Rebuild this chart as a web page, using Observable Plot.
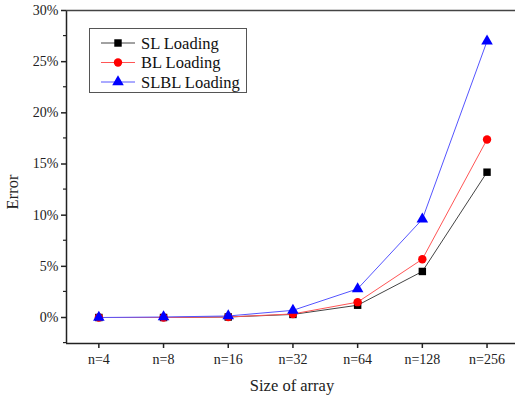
<!DOCTYPE html>
<html><head><meta charset="utf-8">
<script src="https://cdn.jsdelivr.net/npm/d3@7"></script>
<script src="https://cdn.jsdelivr.net/npm/@observablehq/plot@0.6"></script>
<style>body{margin:0;background:#fff;} svg{display:block;} svg text{font-family:'Liberation Serif','Times New Roman',serif !important;}</style>
</head><body><div id="chart"></div>
<script>
const categories = ["n=4","n=8","n=16","n=32","n=64","n=128","n=256"];
const slLoading = [0, 0, 0.05, 0.3, 1.2, 4.5, 14.2];
const blLoading = [0, 0, 0.05, 0.35, 1.5, 5.7, 17.4];
const slblLoading = [0, 0.05, 0.15, 0.7, 2.8, 9.6, 27.0];
const seriesNames = ["SL Loading", "BL Loading", "SLBL Loading"];
const yTicks = [0, 5, 10, 15, 20, 25, 30];
const yMinorTicks = [-2.5, 2.5, 7.5, 12.5, 17.5, 22.5, 27.5];

const styles = [
  {line: "#444", fill: "#000", symbol: "square", r: 4.2},
  {line: "#ff5555", fill: "#ff0000", symbol: "circle", r: 4.2},
  {line: "#5555ff", fill: "#0000ff", symbol: "triangle", r: 4.3}
];
const allSeries = [slLoading, blLoading, slblLoading];
const data = [];
allSeries.forEach((vals, s) => vals.forEach((v, i) => data.push({s, name: seriesNames[s], i, v})));

const font = "'Liberation Serif', 'Times New Roman', serif";
const xDom = [-0.5, 6.44];
const yDom = [-2.54, 30];
const xTickIdx = categories.map((c, i) => i);

const marks = [];
allSeries.forEach((vals, s) => {
  const d = data.filter(o => o.s === s);
  marks.push(Plot.line(d, {x: "i", y: "v", stroke: styles[s].line, strokeWidth: 1}));
});
allSeries.forEach((vals, s) => {
  const d = data.filter(o => o.s === s);
  marks.push(Plot.dot(d, {x: "i", y: "v", fill: styles[s].fill, stroke: "none", symbol: styles[s].symbol, r: styles[s].r}));
});
marks.push(Plot.ruleX([xDom[0]], {stroke: "#222", strokeWidth: 1.5}));
marks.push(Plot.ruleY([yDom[0]], {stroke: "#222", strokeWidth: 1.5}));
marks.push(Plot.ruleY([yDom[1]], {stroke: "#444", strokeWidth: 1.5}));

const chart = Plot.plot({
  width: 515, height: 399,
  marginLeft: 66, marginRight: 0, marginTop: 10, marginBottom: 56,
  style: {fontFamily: font, fontSize: "14px", color: "#222", background: "#fff", overflow: "visible"},
  x: {type: "linear", domain: xDom, label: null},
  y: {type: "linear", domain: yDom, label: null},
  marks: [
    Plot.axisX({ticks: xTickIdx, tickFormat: i => categories[i], tickSize: 5, tickPadding: 6, stroke: "#222", strokeWidth: 1.5, fontSize: 14, label: null}),
    Plot.axisY({ticks: yTicks, tickFormat: d => d + "%", tickSize: 5, tickPadding: 3, stroke: "#222", strokeWidth: 1.5, fontSize: 14, label: null}),
    ...marks
  ]
});

const svg = d3.select(chart);
const yScale = chart.scale("y");
const xScale = chart.scale("x");
const x0 = xScale.apply(xDom[0]);
yMinorTicks.forEach(t => {
  svg.append("line").attr("x1", x0 - 3).attr("x2", x0).attr("y1", yScale.apply(t)).attr("y2", yScale.apply(t))
    .attr("stroke", "#222").attr("stroke-width", 1.2);
});
svg.append("text").attr("x", 292).attr("y", 391).attr("text-anchor", "middle")
  .style("font-size", "16.5px").attr("fill", "#222").text("Size of array");
svg.append("text").attr("transform", "translate(18,192) rotate(-90)").attr("text-anchor", "middle")
  .style("font-size", "16.5px").attr("fill", "#222").text("Error");
const lg = svg.append("g");
lg.append("rect").attr("x", 89.5).attr("y", 28.5).attr("width", 157).attr("height", 64)
  .attr("fill", "#fff").attr("stroke", "#555").attr("stroke-width", 1);
const symMap = {square: d3.symbolSquare, circle: d3.symbolCircle, triangle: d3.symbolTriangle};
seriesNames.forEach((name, s) => {
  const yy = 43 + s * 19.5;
  lg.append("line").attr("x1", 101).attr("x2", 135).attr("y1", yy).attr("y2", yy)
    .attr("stroke", styles[s].line).attr("stroke-width", 1);
  const size = Math.PI * styles[s].r * styles[s].r;
  lg.append("path").attr("d", d3.symbol(symMap[styles[s].symbol], size)())
    .attr("transform", `translate(118,${yy})`).attr("fill", styles[s].fill);
  lg.append("text").attr("x", 141).attr("y", yy + 5.5).attr("text-anchor", "start")
    .style("font-size", "16.5px").attr("fill", "#111").text(name);
});
document.getElementById("chart").appendChild(chart);
</script></body></html>
